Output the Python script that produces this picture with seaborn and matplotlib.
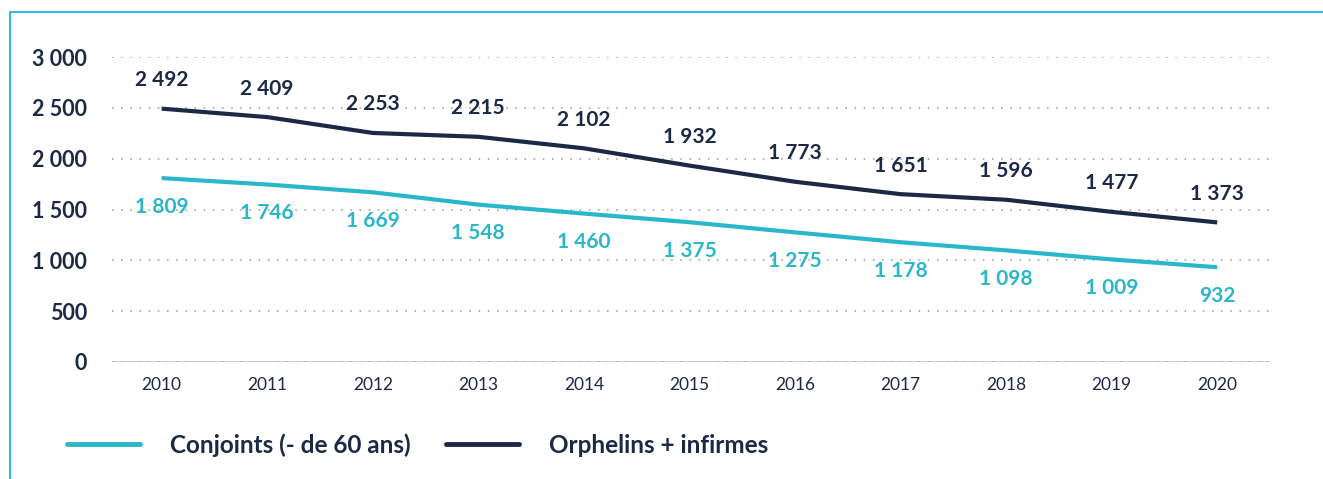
import matplotlib
matplotlib.use("Agg")
import matplotlib.pyplot as plt
import seaborn as sns
import pandas as pd
from matplotlib.lines import Line2D

years = ["2010", "2011", "2012", "2013", "2014", "2015", "2016", "2017", "2018", "2019", "2020"]
conjoints = [1809, 1746, 1669, 1548, 1460, 1375, 1275, 1178, 1098, 1009, 932]
orphelins = [2492, 2409, 2253, 2215, 2102, 1932, 1773, 1651, 1596, 1477, 1373]
series_names = ["Conjoints (- de 60 ans)", "Orphelins + infirmes"]
yticks = [0, 500, 1000, 1500, 2000, 2500, 3000]

CYAN = "#2ab7c9"
NAVY = "#1b2846"
BORDER = "#19b2ea"

sns.set_theme(style="white")
plt.rcParams["font.family"] = ["Lato", "DejaVu Sans"]

df = pd.DataFrame({
    "year": years * 2,
    "value": conjoints + orphelins,
    "serie": [series_names[0]] * len(years) + [series_names[1]] * len(years),
})

fig = plt.figure(figsize=(13.23, 4.79), dpi=100)
ax = fig.add_axes([112 / 1323, 1 - 362 / 479, (1270 - 112) / 1323, (362 - 57) / 479])

# grid
for v in yticks:
    if v == 0:
        ax.axhline(0, color=NAVY, lw=1.0, zorder=1)
    ax.axhline(v, color="#9a9a9a", lw=1.1, linestyle=(0, (1, 5)), zorder=1.5)

sns.lineplot(data=df, x="year", y="value", hue="serie",
             palette={series_names[0]: CYAN, series_names[1]: NAVY},
             linewidth=3.0, ax=ax, legend=False, sort=False, zorder=3)
for l in ax.lines:
    l.set_solid_capstyle("butt")

def fmt(v):
    return f"{v:,}".replace(",", " ")

for i, v in enumerate(orphelins):
    ax.annotate(fmt(v), (i, v), xytext=(0, 20.5), textcoords="offset points",
                ha="center", va="center", fontsize=15, fontweight="bold", color=NAVY)
for i, v in enumerate(conjoints):
    ax.annotate(fmt(v), (i, v), xytext=(0, -20.5), textcoords="offset points",
                ha="center", va="center", fontsize=15, fontweight="bold", color=CYAN)

ax.set_ylim(0, 3000)
ax.set_xlim(-0.47, 10.5)
ax.set_yticks(yticks)
ax.set_yticklabels([fmt(v) for v in yticks], fontsize=15.5, fontweight="bold", color=NAVY)
ax.set_xticks(range(len(years)))
ax.set_xticklabels(years, fontsize=12.5, color=NAVY)
ax.tick_params(axis="y", length=0, pad=18)
ax.tick_params(axis="x", length=0, pad=11)
for s in ax.spines.values():
    s.set_visible(False)
ax.set_xlabel("")
ax.set_ylabel("")
ax.grid(False)

# legend
handles = [Line2D([0], [0], color=CYAN, lw=3.5), Line2D([0], [0], color=NAVY, lw=3.5)]
leg = fig.legend(handles, series_names, loc="center left", bbox_to_anchor=(45 / 1323, 1 - 445 / 479),
                 ncol=2, frameon=False, handlelength=3.0, handletextpad=1.25, columnspacing=1.45,
                 prop={"family": ["Lato", "DejaVu Sans"], "weight": "bold", "size": 17.5})
for t in leg.get_texts():
    t.set_color(NAVY)

# border
fig.add_artist(Line2D([10 / 1323, 1], [1 - 12 / 479, 1 - 12 / 479], color=BORDER, lw=1.3, transform=fig.transFigure))
fig.add_artist(Line2D([10 / 1323, 10 / 1323], [1 - 12 / 479, 0], color=BORDER, lw=1.3, transform=fig.transFigure))

fig.savefig("out.png", dpi=100)
